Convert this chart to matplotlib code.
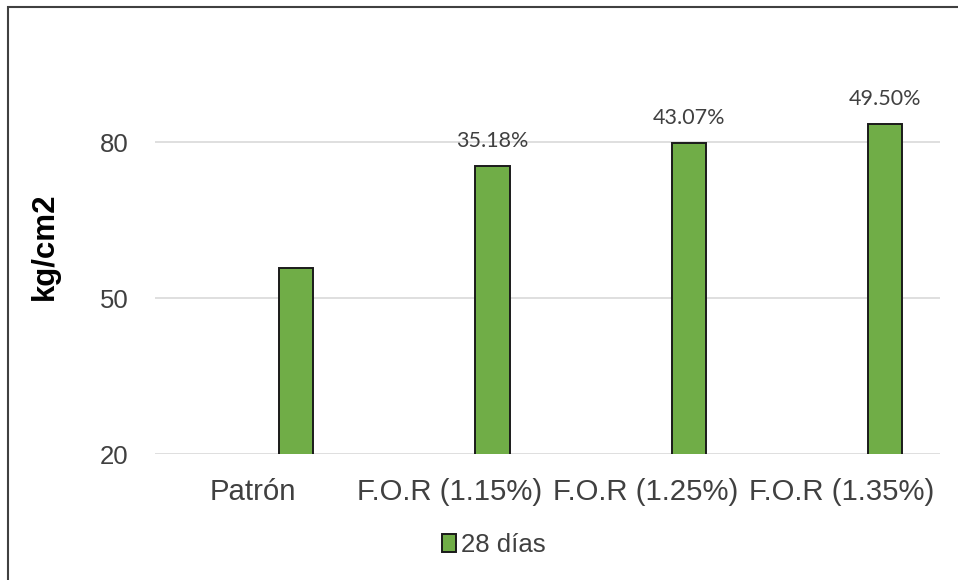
import matplotlib
matplotlib.use("Agg")
import matplotlib.pyplot as plt
from matplotlib.patches import Rectangle
import numpy as np

# Compressive strength at 28 days (kg/cm2) and increase over the reference mix
categories = ["Patrón", "F.O.R (1.15%)", "F.O.R (1.25%)", "F.O.R (1.35%)"]
strength_28d = [55.8, 75.43, 79.83, 83.42]
increase_labels = ["", "35.18%", "43.07%", "49.50%"]
series_name = "28 días"
y_ticks = [20, 50, 80]

W, H = 958, 580
fig = plt.figure(figsize=(W / 100, H / 100), dpi=100)
fig.patch.set_facecolor("white")

ax = fig.add_axes([155 / W, 1 - 454 / H, 785 / W, 416 / H])

x = np.arange(len(categories))
bar_offset = 0.22
bars = ax.bar(x + bar_offset, strength_28d, width=0.175, color="#70AD47",
              edgecolor="#1a1a1a", linewidth=1.4, label=series_name, zorder=3)

for rect, txt in zip(bars, increase_labels):
    if txt:
        ax.annotate(txt, (rect.get_x() + rect.get_width() / 2, rect.get_height()),
                    xytext=(0, 13.5), textcoords="offset points",
                    ha="center", va="baseline", fontsize=15.5,
                    family=["Lato", "DejaVu Sans"], color="#404040")

ax.set_xlim(-0.5, len(categories) - 0.5)
ax.set_ylim(20, 100)
ax.set_yticks(y_ticks)
ax.set_xticks(x)
ax.set_xticklabels(categories)

for lbl in ax.get_xticklabels():
    lbl.set_fontfamily(["Liberation Sans", "DejaVu Sans"])
    lbl.set_fontsize(21.2)
    lbl.set_color("#404040")
for lbl in ax.get_yticklabels():
    lbl.set_fontfamily(["Liberation Sans", "DejaVu Sans"])
    lbl.set_fontsize(18.5)
    lbl.set_color("#404040")

ax.tick_params(axis="both", length=0)
ax.tick_params(axis="y", pad=19)
ax.tick_params(axis="x", pad=17)

ax.grid(axis="y", color="#D9D9D9", linewidth=1.2, zorder=0)
ax.set_axisbelow(True)
for s in ax.spines.values():
    s.set_visible(False)

ax.set_ylabel("kg/cm2", fontsize=22.5, fontweight="bold",
              family=["Liberation Sans", "DejaVu Sans"], color="black")
ax.yaxis.set_label_coords(-0.121, 0.5)

leg = ax.legend(loc="center", bbox_to_anchor=(494 / W, 1 - 545 / H),
                bbox_transform=fig.transFigure, frameon=False,
                handlelength=0.55, handleheight=0.7, handletextpad=0.2,
                prop={"family": ["Liberation Sans", "DejaVu Sans"], "size": 18.5})
for t in leg.get_texts():
    t.set_color("#404040")

# Chart-area border
fig.patches.append(Rectangle((8 / W, -0.1), 1.2, 1 - 7 / H + 0.1,
                             transform=fig.transFigure, fill=False,
                             edgecolor="#404040", linewidth=1.5))

fig.savefig("out.png", dpi=100, facecolor="white")
